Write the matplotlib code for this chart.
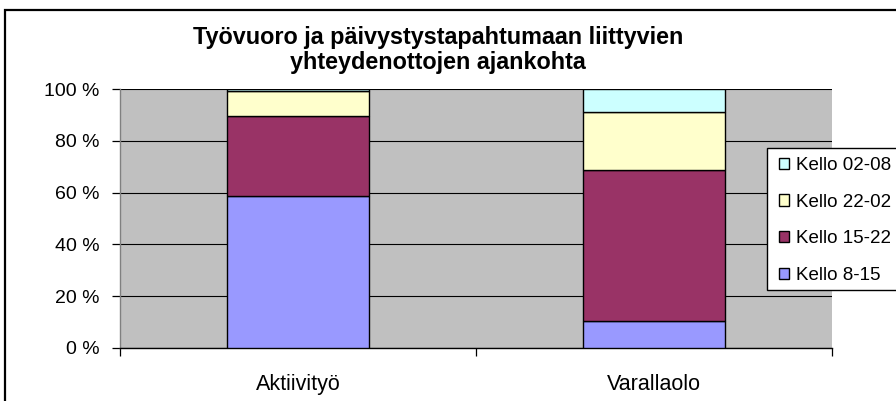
import numpy as np
import matplotlib
matplotlib.use("Agg")
import matplotlib.pyplot as plt
from matplotlib.patches import Rectangle, Patch

plt.rcParams['font.family'] = ['Liberation Sans', 'DejaVu Sans']

categories = ["Aktiivityö", "Varallaolo"]
series_names = ["Kello 8-15", "Kello 15-22", "Kello 22-02", "Kello 02-08"]
kello_8_15 = [58.6, 10.5]
kello_15_22 = [31.1, 58.1]
kello_22_02 = [9.5, 22.5]
kello_02_08 = [0.8, 8.9]
colors = ["#9999FF", "#993366", "#FFFFCC", "#CCFFFF"]

W, H = 896, 401
fig = plt.figure(figsize=(W / 100, H / 100), dpi=100)

# outer chart border (clipped at right/bottom like the original)
fig.patches.append(Rectangle((5 / W, -0.1), 2.0, 1 - 10 / H + 0.1,
                             transform=fig.transFigure, fill=False,
                             edgecolor="black", lw=1.6, zorder=0))

ax = fig.add_axes([120 / W, (H - 348) / H, 712 / W, 259 / H])
ax.set_facecolor("#C0C0C0")

x = np.arange(len(categories))
data = [kello_8_15, kello_15_22, kello_22_02, kello_02_08]
bottom = np.zeros(len(categories))
for vals, name, c in zip(data, series_names, colors):
    ax.bar(x, vals, 0.4, bottom=bottom, color=c, edgecolor="black",
           linewidth=1.0, label=name, zorder=3)
    bottom += np.array(vals)

ax.set_xlim(-0.5, 1.5)
ax.set_ylim(0, 100)
ax.set_yticks(np.arange(0, 101, 20))
ax.set_yticklabels([f"{v} %" for v in range(0, 101, 20)], fontsize=14)
ax.yaxis.grid(True, color="#000000", lw=0.8, zorder=1)
ax.set_axisbelow(True)

ax.set_xticks(x)
ax.set_xticklabels(categories, fontsize=15.5)
ax.tick_params(axis="x", length=0, pad=19)
ax.set_xticks([-0.5, 0.5, 1.5], minor=True)
ax.tick_params(axis="x", which="minor", length=6, width=0.9, color="#000000")
ax.tick_params(axis="y", length=6, width=0.9, pad=9)

for s in ["top", "right"]:
    ax.spines[s].set_visible(False)
ax.spines["left"].set_color("#808080")
ax.spines["left"].set_linewidth(1.0)
ax.spines["bottom"].set_color("#000000")
ax.spines["bottom"].set_linewidth(1.0)

fig.text(438 / W, 1 - 50 / H, "Työvuoro ja päivystystapahtumaan liittyvien\nyhteydenottojen ajankohta",
         ha="center", va="center", fontsize=16.8, fontweight="bold", linespacing=1.12)

# legend
fig.patches.append(Rectangle((767 / W, 1 - 290 / H), 1.0, 142 / H,
                             transform=fig.transFigure, facecolor="white",
                             edgecolor="black", lw=1.0, zorder=4))
handles = [Patch(facecolor=c, edgecolor="black", lw=1.0) for c in colors]
leg = fig.legend(handles[::-1], series_names[::-1], loc="upper left",
                 bbox_to_anchor=(764 / W, 1 - 142 / H), frameon=False,
                 fontsize=13.5, handlelength=0.55, handleheight=0.55,
                 handletextpad=0.35, labelspacing=1.05, borderpad=0.3)
leg.set_zorder(5)

fig.savefig("out.png", dpi=100)
